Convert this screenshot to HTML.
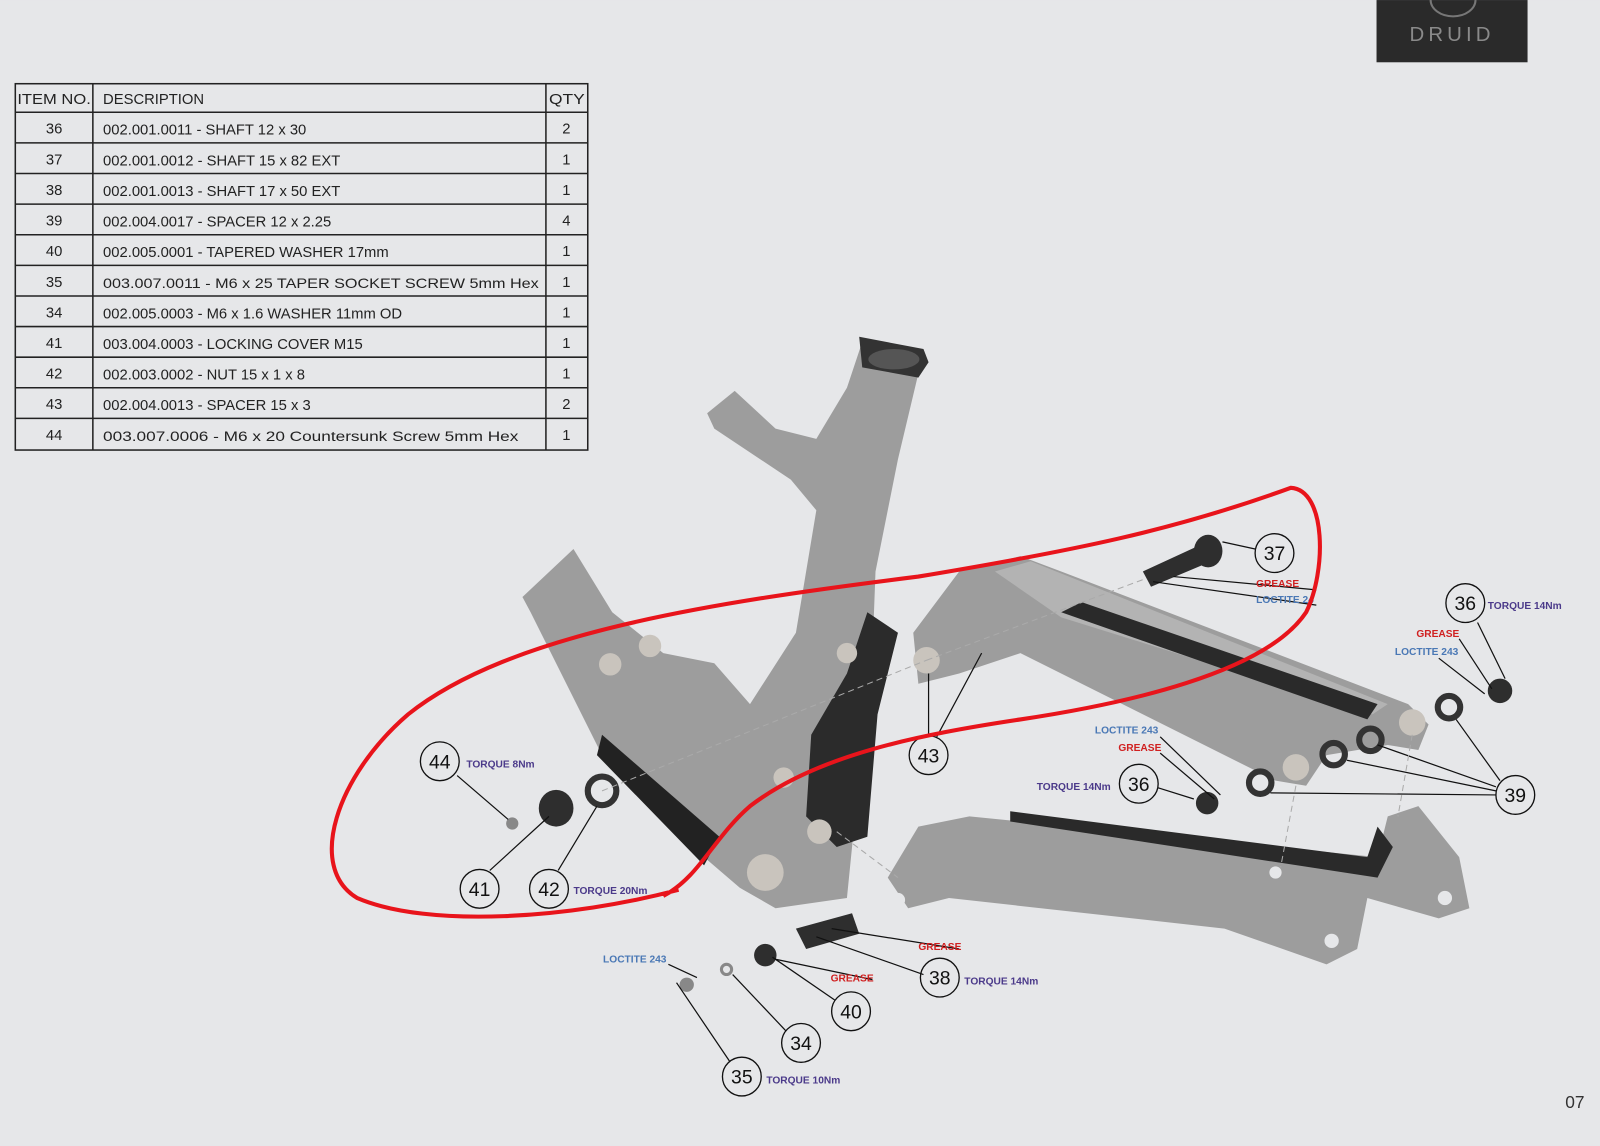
<!DOCTYPE html>
<html><head><meta charset="utf-8"><style>
html,body{margin:0;padding:0;background:#e6e7e9;}
svg{display:block}
text{font-family:"Liberation Sans",sans-serif}
</style></head><body>
<svg width="1600" height="1146" viewBox="0 0 1568 1123" xmlns="http://www.w3.org/2000/svg">
<rect width="1568" height="1123" fill="#e6e7e9"/>
<!-- logo -->
<rect x="1349" y="0" width="148" height="61" fill="#2a2a2a"/>
<path d="M1402 0 A22 16 0 0 0 1446 0" fill="none" stroke="#777" stroke-width="2"/>
<text x="1423" y="40" font-size="20" fill="#8a8a8a" text-anchor="middle" letter-spacing="4">DRUID</text>
<text x="1534" y="1086" font-size="17" fill="#333">07</text>
<!-- table -->
<g font-size="14.5" fill="#222" stroke="none">
<rect x="15" y="82" width="561" height="359" fill="none" stroke="#222" stroke-width="1.5"/>
<line x1="91" y1="82" x2="91" y2="441" stroke="#222" stroke-width="1.5"/>
<line x1="535" y1="82" x2="535" y2="441" stroke="#222" stroke-width="1.5"/>
<g stroke="#222" stroke-width="1.5">
<line x1="15" y1="110" x2="576" y2="110"/><line x1="15" y1="140" x2="576" y2="140"/><line x1="15" y1="170" x2="576" y2="170"/><line x1="15" y1="200" x2="576" y2="200"/><line x1="15" y1="230" x2="576" y2="230"/><line x1="15" y1="260" x2="576" y2="260"/><line x1="15" y1="290" x2="576" y2="290"/><line x1="15" y1="320" x2="576" y2="320"/><line x1="15" y1="350" x2="576" y2="350"/><line x1="15" y1="380" x2="576" y2="380"/><line x1="15" y1="410" x2="576" y2="410"/>
</g>
<text x="17" y="102" textLength="72" lengthAdjust="spacingAndGlyphs">ITEM NO.</text>
<text x="101" y="102">DESCRIPTION</text>
<text x="538" y="102" textLength="35" lengthAdjust="spacingAndGlyphs">QTY</text>
<g text-anchor="middle">
<text x="53" y="131">36</text><text x="53" y="161">37</text><text x="53" y="191">38</text><text x="53" y="221">39</text><text x="53" y="251">40</text><text x="53" y="281">35</text><text x="53" y="311">34</text><text x="53" y="341">41</text><text x="53" y="371">42</text><text x="53" y="401">43</text><text x="53" y="431">44</text>
<text x="555" y="131">2</text><text x="555" y="161">1</text><text x="555" y="191">1</text><text x="555" y="221">4</text><text x="555" y="251">1</text><text x="555" y="281">1</text><text x="555" y="311">1</text><text x="555" y="341">1</text><text x="555" y="371">1</text><text x="555" y="401">2</text><text x="555" y="431">1</text>
</g>
<text x="101" y="132">002.001.0011 - SHAFT 12 x 30</text>
<text x="101" y="162">002.001.0012 - SHAFT 15 x 82 EXT</text>
<text x="101" y="192">002.001.0013 - SHAFT 17 x 50 EXT</text>
<text x="101" y="222">002.004.0017 - SPACER 12 x 2.25</text>
<text x="101" y="252">002.005.0001 - TAPERED WASHER 17mm</text>
<text x="101" y="282" font-size="14" textLength="427" lengthAdjust="spacingAndGlyphs">003.007.0011 - M6 x 25 TAPER SOCKET SCREW 5mm Hex</text>
<text x="101" y="312">002.005.0003 - M6 x 1.6 WASHER 11mm OD</text>
<text x="101" y="342">003.004.0003 - LOCKING COVER M15</text>
<text x="101" y="372">002.003.0002 - NUT 15 x 1 x 8</text>
<text x="101" y="402">002.004.0013 - SPACER 15 x 3</text>
<text x="101" y="432" font-size="14" textLength="407" lengthAdjust="spacingAndGlyphs">003.007.0006 - M6 x 20 Countersunk Screw 5mm Hex</text>
</g>
<!-- main frame -->
<g fill="#9d9d9d">
<path d="M845 335 L905 345 L880 450 L858 560 L855 640 L820 690 L840 780 L830 880 L760 890 L725 870 L690 840 L590 740 L520 600 L512 585 L562 538 L600 600 L650 640 L700 650 L735 690 L780 620 L790 560 L800 500 L775 470 L745 450 L700 420 L693 405 L720 383 L760 420 L800 430 L830 380 Z"/>
<path d="M590 720 L705 820 L690 848 L585 740 Z" fill="#222"/>
<path d="M850 600 L880 620 L860 700 L850 820 L820 830 L790 800 L795 720 L830 660 Z" fill="#2b2b2b"/>
<path d="M842 330 L905 342 L910 355 L900 370 L845 360 Z" fill="#333"/>
<ellipse cx="876" cy="352" rx="25" ry="10" fill="#555"/>
<path d="M895 620 L940 560 L1000 545 L1040 560 L1380 690 L1400 710 L1390 735 L1360 730 L1300 740 L1280 770 L1250 765 L1000 640 L940 660 L900 670 Z"/>
<path d="M975 560 L1010 550 L1360 690 L1345 700 L1040 605 Z" fill="#b3b3b3"/>
<path d="M1040 600 L1060 590 L1350 690 L1340 705 Z" fill="#2a2a2a"/>
<path d="M870 860 L900 810 L950 800 L1350 840 L1360 800 L1390 790 L1430 840 L1440 890 L1410 900 L1340 880 L1330 930 L1300 945 L1200 910 L930 880 L890 890 Z"/>
<path d="M990 795 L1340 840 L1350 810 L1365 830 L1350 860 L990 805 Z" fill="#2a2a2a"/>
</g>
<g fill="#c9c4bd"><circle cx="598" cy="651" r="11"/><circle cx="637" cy="633" r="11"/><circle cx="908" cy="647" r="13"/><circle cx="830" cy="640" r="10"/><circle cx="768" cy="762" r="10"/><circle cx="1270" cy="752" r="13"/><circle cx="1384" cy="708" r="13"/><circle cx="750" cy="855" r="18"/><circle cx="803" cy="815" r="12"/></g>
<g fill="#e6e7e9"><circle cx="880" cy="882" r="7"/><circle cx="1305" cy="922" r="7"/><circle cx="1416" cy="880" r="7"/><circle cx="1250" cy="855" r="6"/></g>
<!-- hardware -->
<g fill="#2e2e2e">
<path d="M1120 560 L1185 530 L1192 548 L1128 575 Z"/><ellipse cx="1184" cy="540" rx="14" ry="16"/>
<path d="M780 910 L835 895 L842 915 L790 930 Z"/><ellipse cx="545" cy="792" rx="17" ry="18"/>
<circle cx="750" cy="936" r="11"/><circle cx="1470" cy="677" r="12"/><circle cx="1183" cy="787" r="11"/>
</g>
<g fill="none" stroke="#333" stroke-width="6"><circle cx="590" cy="775" r="14"/><circle cx="1420" cy="693" r="11"/><circle cx="1343" cy="725" r="11"/><circle cx="1307" cy="739" r="11"/><circle cx="1235" cy="767" r="11"/></g>
<circle cx="712" cy="950" r="5" fill="none" stroke="#888" stroke-width="3"/>
<circle cx="502" cy="807" r="6" fill="#888"/><circle cx="673" cy="965" r="7" fill="#888"/>
<!-- leader lines -->
<g stroke="#111" stroke-width="1.2" fill="none">
<line x1="1230" y1="538" x2="1198" y2="531"/><line x1="1290" y1="578" x2="1150" y2="565"/><line x1="1290" y1="593" x2="1130" y2="570"/>
<line x1="1448" y1="610" x2="1475" y2="665"/><line x1="1430" y1="626" x2="1462" y2="675"/><line x1="1410" y1="645" x2="1455" y2="680"/>
<line x1="1137" y1="722" x2="1196" y2="779"/><line x1="1137" y1="738" x2="1190" y2="783"/><line x1="1135" y1="772" x2="1170" y2="783"/>
<line x1="1466" y1="779" x2="1245" y2="777"/><line x1="1466" y1="775" x2="1320" y2="745"/><line x1="1466" y1="771" x2="1350" y2="730"/><line x1="1470" y1="765" x2="1427" y2="705"/>
<line x1="910" y1="722" x2="910" y2="660"/><line x1="918" y1="722" x2="962" y2="640"/>
<line x1="448" y1="760" x2="498" y2="803"/><line x1="480" y1="853" x2="538" y2="800"/><line x1="547" y1="853" x2="585" y2="790"/>
<line x1="940" y1="930" x2="815" y2="910"/><line x1="905" y1="955" x2="800" y2="918"/><line x1="818" y1="980" x2="757" y2="938"/><line x1="855" y1="960" x2="760" y2="940"/>
<line x1="770" y1="1010" x2="718" y2="955"/><line x1="715" y1="1040" x2="663" y2="963"/><line x1="655" y1="945" x2="683" y2="958"/>
</g>
<g stroke="#aaa" stroke-width="1" stroke-dasharray="6 4" fill="none"><line x1="590" y1="775" x2="908" y2="647"/><line x1="908" y1="647" x2="1120" y2="568"/><line x1="820" y1="815" x2="880" y2="860"/><line x1="1270" y1="770" x2="1255" y2="850"/><line x1="1384" y1="720" x2="1370" y2="800"/></g>
<!-- callouts -->
<g fill="none" stroke="#111" stroke-width="1.3">
<circle cx="1249" cy="542" r="19"/><circle cx="1436" cy="591" r="19"/><circle cx="1116" cy="768" r="19"/><circle cx="1485" cy="779" r="19"/><circle cx="910" cy="740" r="19"/><circle cx="431" cy="746" r="19"/><circle cx="470" cy="871" r="19"/><circle cx="538" cy="871" r="19"/><circle cx="921" cy="958" r="19"/><circle cx="834" cy="991" r="19"/><circle cx="785" cy="1022" r="19"/><circle cx="727" cy="1055" r="19"/>
</g>
<g font-size="19" fill="#111" text-anchor="middle">
<text x="1249" y="549">37</text><text x="1436" y="598">36</text><text x="1116" y="775">36</text><text x="1485" y="786">39</text><text x="910" y="747">43</text><text x="431" y="753">44</text><text x="470" y="878">41</text><text x="538" y="878">42</text><text x="921" y="965">38</text><text x="834" y="998">40</text><text x="785" y="1029">34</text><text x="727" y="1062">35</text>
</g>
<g font-size="10" font-weight="bold">
<text x="1231" y="575" fill="#d02020">GREASE</text><text x="1231" y="591" fill="#4a78b5">LOCTITE 24</text>
<text x="1458" y="597" fill="#4b3a8a">TORQUE 14Nm</text>
<text x="1388" y="624" fill="#d02020">GREASE</text><text x="1367" y="642" fill="#4a78b5">LOCTITE 243</text>
<text x="1073" y="719" fill="#4a78b5">LOCTITE 243</text><text x="1096" y="736" fill="#d02020">GREASE</text>
<text x="1016" y="774" fill="#4b3a8a">TORQUE 14Nm</text>
<text x="457" y="752" fill="#4b3a8a">TORQUE 8Nm</text><text x="562" y="876" fill="#4b3a8a">TORQUE 20Nm</text>
<text x="900" y="931" fill="#d02020">GREASE</text><text x="814" y="962" fill="#d02020">GREASE</text>
<text x="945" y="965" fill="#4b3a8a">TORQUE 14Nm</text><text x="591" y="943" fill="#4a78b5">LOCTITE 243</text>
<text x="751" y="1062" fill="#4b3a8a">TORQUE 10Nm</text>
</g>
<!-- red annotation -->
<path d="M665 872 C560 900 420 910 350 880 C300 850 330 760 400 700 C500 620 700 590 900 565 C1050 540 1150 520 1265 478 C1300 480 1300 560 1280 600 C1240 660 1100 690 1000 705 C900 720 800 740 735 790 C700 820 685 860 650 878" fill="none" stroke="#e8141b" stroke-width="4"/>
</svg>
</body></html>
